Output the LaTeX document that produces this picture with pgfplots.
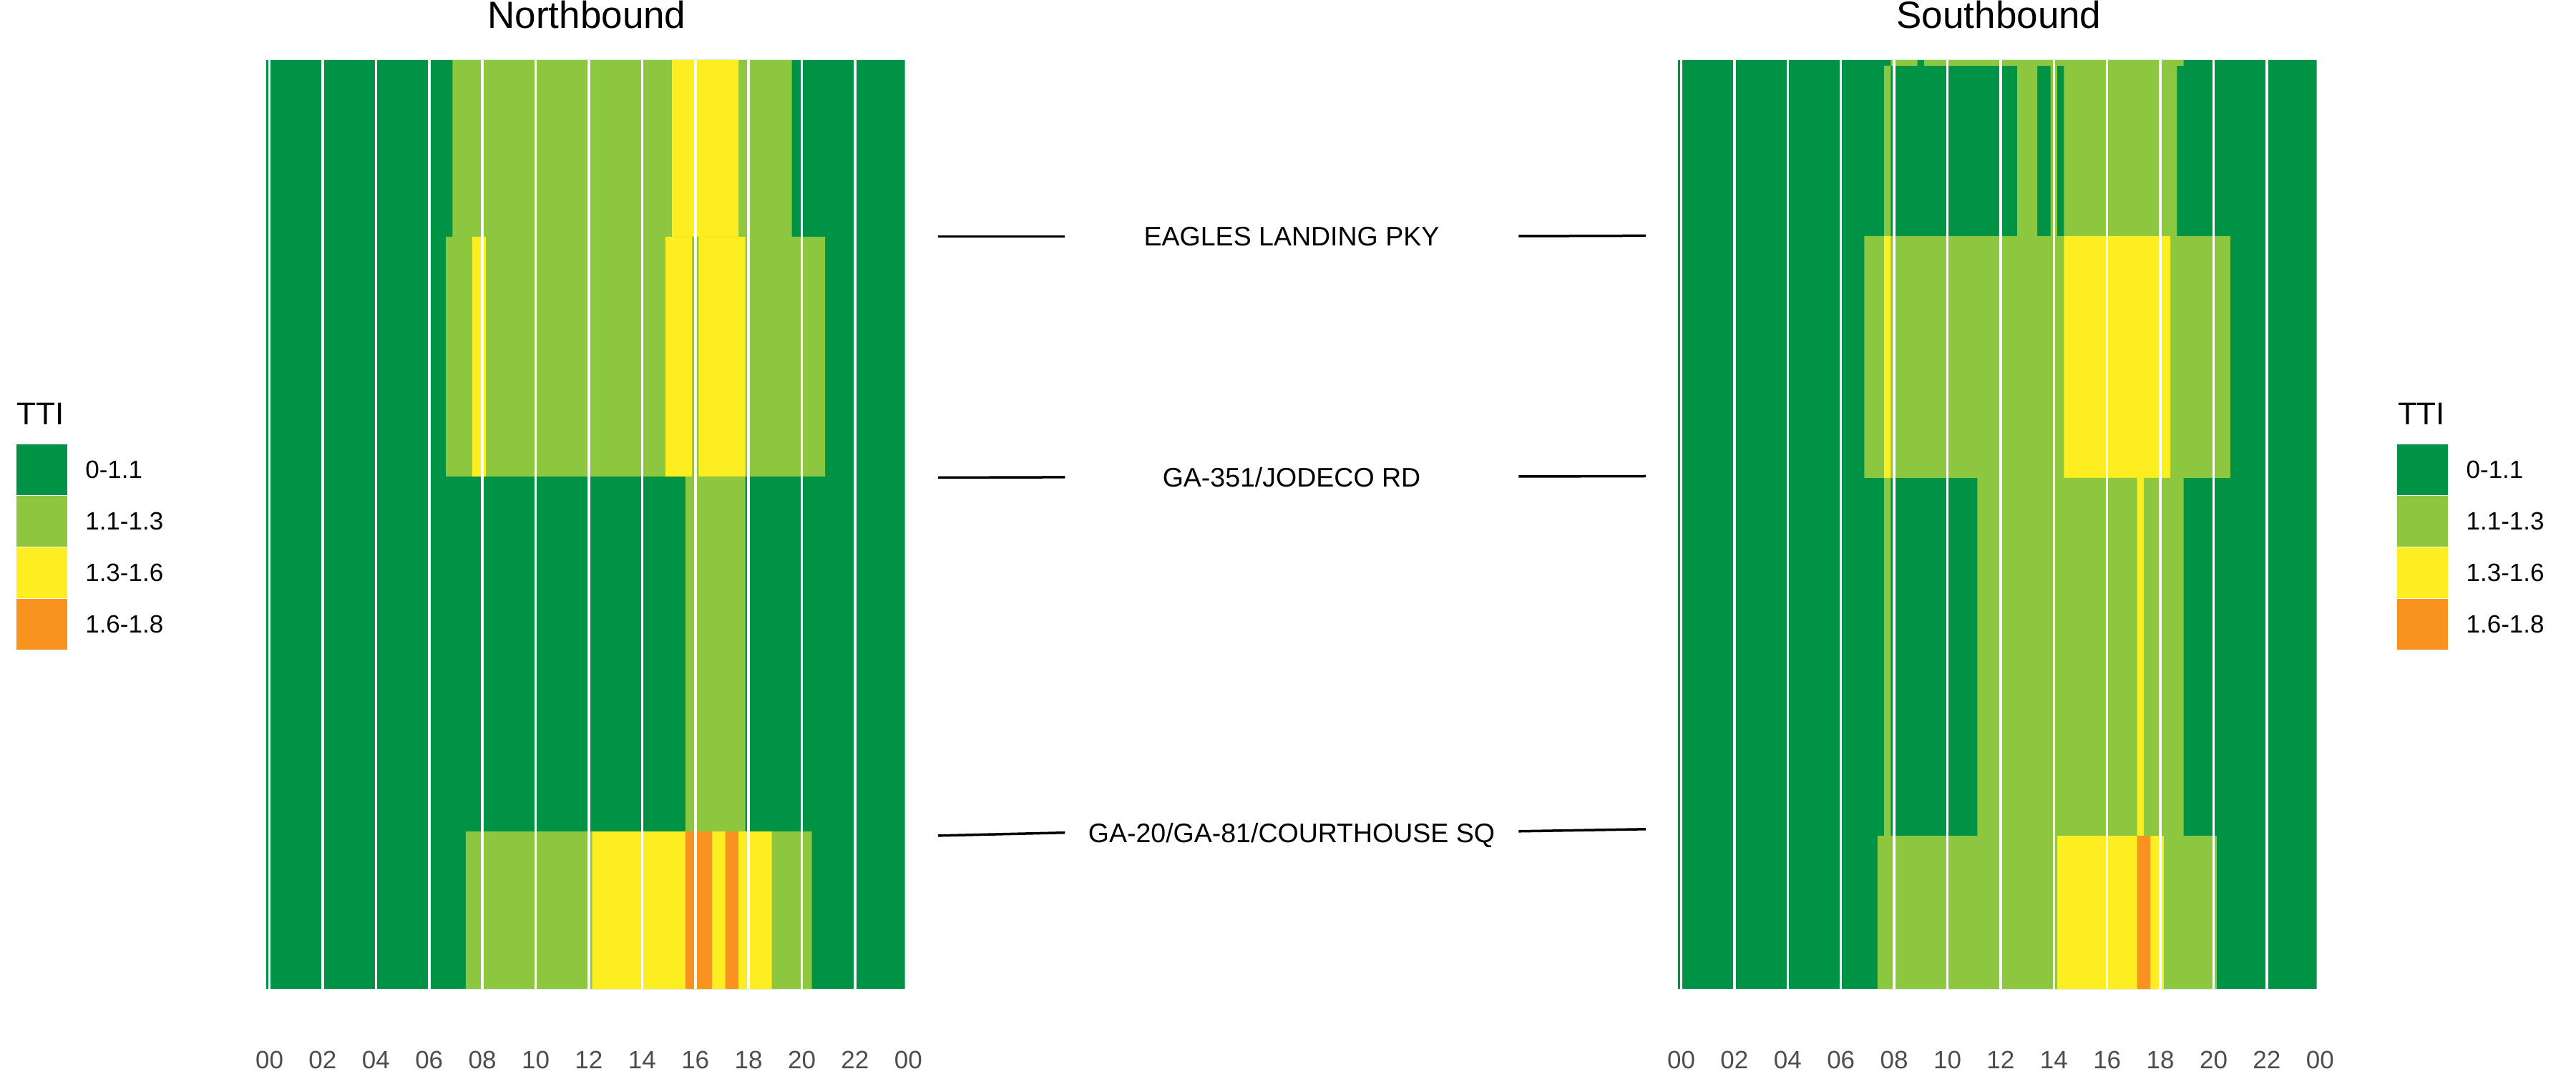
\documentclass[border=0pt]{standalone}
\usepackage{fontspec}
\setmainfont{Liberation Sans}
\usepackage{pgfplots}
\pgfplotsset{compat=1.18}
\definecolor{dg}{RGB}{0,146,69}
\definecolor{lg}{RGB}{141,198,63}
\definecolor{yl}{RGB}{252,238,33}
\definecolor{og}{RGB}{247,147,30}
\definecolor{tk}{RGB}{77,77,77}
% one tile: x0 x1 (hours) y0 y1 (distance) colour
\newcommand{\tile}[5]{\addplot[draw=none,fill=#5,forget plot] coordinates {(#1,#3) (#2,#3) (#2,#4) (#1,#4) (#1,#3)};}
\pgfplotsset{heat/.style={scale only axis, width=179.49pt, height=259.6pt, anchor=south west,
  xmin=-0.125, xmax=24, ymin=0, ymax=1298,
  axis line style={draw=none}, major tick length=0pt, ytick=\empty,
  xtick={0,2,...,24}, xticklabels={00,02,04,06,08,10,12,14,16,18,20,22,00},
  xticklabel style={anchor=center, inner sep=0pt, yshift=-19.8pt, font=\fontsize{7}{8}\selectfont, text=tk},
  xmajorgrids, grid style={white, line width=0.7pt}, axis on top}}
\begin{document}
\begin{tikzpicture}
\useasboundingbox (0,0) rectangle (720pt,300pt);
% ---------------- Northbound ----------------
\begin{axis}[heat, at={(74.38pt,23.6pt)}]
\tile{-0.125}{23.875}{0}{1298}{dg}
% segment above Eagles Landing Pky
\tile{6.875}{19.625}{1051}{1298}{lg}
\tile{15.125}{17.625}{1051}{1298}{yl}
% Eagles Landing - GA-351
\tile{6.625}{20.875}{716}{1051}{lg}
\tile{7.625}{8.125}{716}{1051}{yl}
\tile{14.875}{15.875}{716}{1051}{yl}
\tile{16.125}{17.875}{716}{1051}{yl}
% GA-351 - GA-20
\tile{15.625}{17.875}{220}{716}{lg}
% below GA-20
\tile{7.375}{20.375}{0}{220}{lg}
\tile{12.125}{18.875}{0}{220}{yl}
\tile{15.625}{16.625}{0}{220}{og}
\tile{17.125}{17.625}{0}{220}{og}
\end{axis}
% ---------------- Southbound ----------------
\begin{axis}[heat, at={(468.97pt,23.6pt)}]
\tile{-0.125}{23.875}{0}{1298}{dg}
\tile{7.875}{18.875}{1290}{1298}{lg}
\tile{8.875}{9.125}{1290}{1298}{dg}
\tile{7.625}{7.875}{1052}{1290}{lg}
\tile{12.625}{13.375}{1052}{1290}{lg}
\tile{13.875}{14.125}{1052}{1290}{lg}
\tile{14.375}{18.625}{1052}{1290}{lg}
\tile{6.875}{20.625}{714}{1052}{lg}
\tile{7.625}{7.875}{714}{1052}{yl}
\tile{14.375}{18.375}{714}{1052}{yl}
\tile{7.625}{7.875}{214}{714}{lg}
\tile{11.125}{18.875}{214}{714}{lg}
\tile{17.125}{17.375}{214}{714}{yl}
\tile{7.375}{20.125}{0}{214}{lg}
\tile{14.125}{18.125}{0}{214}{yl}
\tile{17.125}{17.625}{0}{214}{og}
\end{axis}
% titles
\node[anchor=base, inner sep=0, font=\fontsize{10.6}{12}\selectfont] at (164pt,292.1pt) {Northbound};
\node[anchor=base, inner sep=0, font=\fontsize{10.6}{12}\selectfont] at (558.7pt,292.1pt) {Southbound};
% middle labels
\begin{scope}[line width=0.7pt]
\draw (262.16pt,233.88pt) -- (297.66pt,233.88pt);
\draw (424.48pt,234.0pt) -- (460pt,234.12pt);
\draw (262.16pt,166.5pt) -- (297.66pt,166.62pt);
\draw (424.48pt,166.8pt) -- (460pt,166.9pt);
\draw (262.16pt,66.42pt) -- (297.66pt,67.26pt);
\draw (424.48pt,67.64pt) -- (460pt,68.24pt);
\end{scope}
\begin{scope}[every node/.style={anchor=base, inner sep=0, font=\fontsize{7.5}{9}\selectfont}]
\node at (361pt,231.2pt) {EAGLES LANDING PKY};
\node at (361pt,163.9pt) {GA-351/JODECO RD};
\node at (361pt,64.6pt) {GA-20/GA-81/COURTHOUSE SQ};
\end{scope}
% legends
\foreach \lx in {4.54, 670} {
  \node[anchor=base west, inner sep=0, font=\fontsize{8.8}{10}\selectfont] at (\lx pt,181.3pt) {TTI};
  \foreach \c/\t [count=\i from 0] in {dg/0-1.1, lg/1.1-1.3, yl/1.3-1.6, og/1.6-1.8} {
    \pgfmathsetmacro{\top}{175.8-14.4*\i}
    \fill[\c] (\lx pt,\top pt-14.2pt) rectangle (\lx pt+14.26pt,\top pt);
    \node[anchor=base west, inner sep=0, font=\fontsize{7}{8}\selectfont] at (\lx pt+19.12pt,\top pt-7.1pt-2.5pt) {\t};
  }
}
\end{tikzpicture}
\end{document}
